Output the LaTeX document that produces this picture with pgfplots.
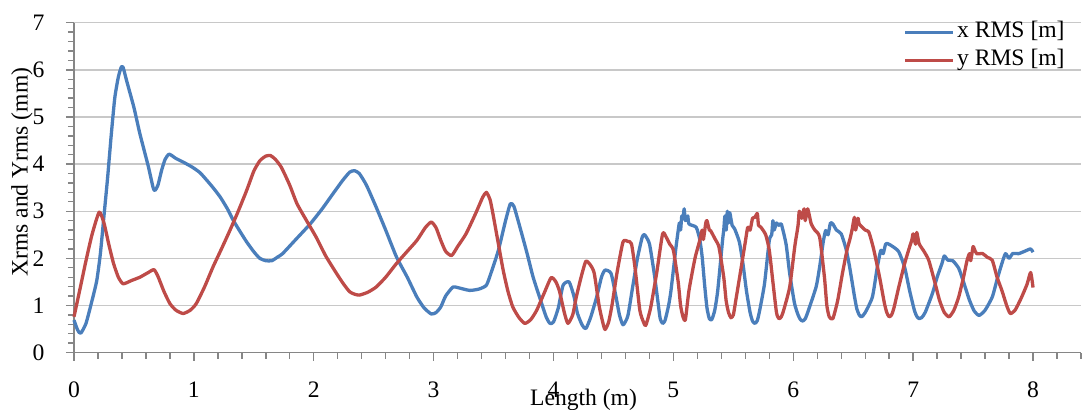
\documentclass[border=0pt]{standalone}
\usepackage{fontspec}
\setmainfont{Liberation Serif}
\usepackage{pgfplots}
\pgfplotsset{compat=1.18}
\definecolor{xblue}{HTML}{4A7EBB}
\definecolor{yred}{HTML}{BE4B48}
\definecolor{axgray}{HTML}{868686}
\definecolor{gridgray}{HTML}{C8C8C8}
\begin{document}
\fontsize{11.8}{14}\selectfont
\begin{tikzpicture}
\begin{axis}[
  at={(0,0)}, anchor=south west,
  scale only axis, width=503.5pt, height=164.95pt,
  xmin=0, xmax=8.4, ymin=0, ymax=7,
  axis x line=bottom, axis y line=left,
  axis line style={-, draw=axgray, line width=0.7pt},
  xtick={0,1,...,8}, ytick={0,1,...,7},
  minor xtick={0,0.2,...,8.4}, minor ytick={0,0.2,...,7},
  tick align=outside, major tick length=4pt, minor tick length=3pt,
  every tick/.style={draw=axgray, line width=0.7pt},
  ymajorgrids, grid style={draw=gridgray, line width=0.7pt},
  /pgf/number format/assume math mode=true,
  ticklabel style={font=\fontsize{11.8}{14}\selectfont},
  xticklabel style={anchor=base, yshift=-18.3pt},
  yticklabel style={anchor=east, xshift=-6.6pt},
  xlabel={Length (m)},
  ylabel={Xrms and Yrms (mm)},
  xlabel style={at={(axis description cs:0.506,0)}, anchor=base, yshift=-26.4pt, font=\fontsize{11.8}{14}\selectfont},
  ylabel style={at={(axis description cs:-0.0517,0.547)}, anchor=center, font=\fontsize{11.8}{14}\selectfont},
  legend style={at={(axis description cs:1,1)}, anchor=north east, xshift=-7pt, yshift=2.35pt,
    draw=none, fill=none, inner sep=0pt, row sep=0pt,
    font=\fontsize{11.8}{14}\selectfont,
    nodes={inner sep=1pt, text height=8.5pt, text depth=3.5pt}},
  legend cell align=left,
  legend image code/.code={\draw[#1] (0pt,0pt) -- (24pt,0pt);},
  clip=false,
]
\addplot[xblue, line width=1.65pt, line join=round, smooth, tension=0.35] coordinates {
(0,0.69)(0.03,0.48)(0.056,0.41)(0.1,0.62)(0.15,1.1)(0.19,1.53)(0.22,2.1)(0.25,2.9)(0.28,3.7)(0.31,4.6)(0.34,5.4)(0.37,5.85)(0.395,6.06)(0.41,6.05)(0.44,5.76)(0.5,5.2)(0.55,4.64)(0.62,3.95)(0.66,3.5)(0.675,3.44)(0.7,3.55)(0.73,3.86)(0.76,4.1)(0.794,4.21)(0.85,4.12)(0.92,4.03)(0.99,3.93)(1.05,3.82)(1.1,3.68)(1.16,3.5)(1.22,3.30)(1.28,3.05)(1.33,2.80)(1.39,2.55)(1.44,2.35)(1.5,2.14)(1.55,2.0)(1.6,1.95)(1.65,1.95)(1.7,2.03)(1.74,2.10)(1.85,2.4)(1.97,2.73)(2.07,3.05)(2.16,3.37)(2.24,3.65)(2.30,3.83)(2.34,3.86)(2.38,3.8)(2.44,3.55)(2.52,3.09)(2.6,2.6)(2.69,2.03)(2.78,1.6)(2.86,1.18)(2.92,0.95)(2.98,0.82)(3.02,0.85)(3.06,0.97)(3.1,1.2)(3.16,1.39)(3.2,1.38)(3.3,1.32)(3.38,1.35)(3.44,1.43)(3.48,1.7)(3.54,2.17)(3.6,2.8)(3.64,3.16)(3.67,3.1)(3.72,2.66)(3.78,2.1)(3.83,1.60)(3.9,1.05)(3.94,0.75)(3.97,0.62)(4.0,0.65)(4.04,0.95)(4.08,1.43)(4.13,1.5)(4.17,1.2)(4.20,0.83)(4.24,0.58)(4.27,0.51)(4.31,0.75)(4.36,1.18)(4.40,1.6)(4.43,1.75)(4.48,1.68)(4.52,1.2)(4.55,0.8)(4.58,0.59)(4.62,0.78)(4.66,1.39)(4.70,2.0)(4.74,2.45)(4.76,2.5)(4.80,2.31)(4.84,1.68)(4.87,1.1)(4.89,0.72)(4.91,0.62)(4.93,0.68)(4.96,1.0)(4.98,1.32)(5.02,2.2)(5.04,2.59)(5.05,2.75)(5.06,2.6)(5.07,2.9)(5.08,2.85)(5.09,3.05)(5.10,2.8)(5.12,2.9)(5.13,2.73)(5.19,2.66)(5.22,2.4)(5.24,2.03)(5.26,1.45)(5.28,0.95)(5.30,0.72)(5.32,0.70)(5.345,0.9)(5.37,1.32)(5.41,2.38)(5.42,2.6)(5.43,2.9)(5.44,2.6)(5.45,3.0)(5.46,2.75)(5.47,2.97)(5.49,2.7)(5.51,2.63)(5.55,2.35)(5.58,1.89)(5.61,1.3)(5.64,0.85)(5.66,0.67)(5.68,0.62)(5.70,0.68)(5.72,0.9)(5.76,1.46)(5.80,2.38)(5.82,2.5)(5.83,2.8)(5.84,2.6)(5.86,2.75)(5.88,2.7)(5.90,2.73)(5.94,2.3)(5.97,1.68)(6.01,1.05)(6.04,0.8)(6.06,0.70)(6.08,0.67)(6.10,0.72)(6.12,0.85)(6.19,1.39)(6.22,1.82)(6.25,2.35)(6.27,2.59)(6.29,2.5)(6.31,2.75)(6.33,2.73)(6.36,2.6)(6.40,2.52)(6.44,2.2)(6.47,1.82)(6.51,1.2)(6.53,0.93)(6.55,0.8)(6.57,0.76)(6.60,0.85)(6.66,1.18)(6.70,1.8)(6.73,2.17)(6.75,2.1)(6.77,2.3)(6.79,2.31)(6.83,2.25)(6.88,2.14)(6.93,1.8)(6.97,1.32)(7.01,0.9)(7.03,0.77)(7.05,0.72)(7.07,0.74)(7.10,0.85)(7.16,1.25)(7.20,1.6)(7.24,1.89)(7.26,2.05)(7.29,1.96)(7.33,1.95)(7.38,1.79)(7.42,1.5)(7.47,1.11)(7.51,0.88)(7.55,0.79)(7.60,0.9)(7.66,1.18)(7.70,1.55)(7.74,1.89)(7.77,2.10)(7.80,2.0)(7.83,2.1)(7.88,2.10)(7.93,2.15)(7.98,2.20)(8.0,2.13)
};
\addlegendentry{x RMS [m]}
\addplot[yred, line width=1.65pt, line join=round, smooth, tension=0.35] coordinates {
(0,0.76)(0.05,1.35)(0.1,1.95)(0.15,2.5)(0.21,2.98)(0.25,2.75)(0.29,2.3)(0.33,1.89)(0.37,1.6)(0.41,1.46)(0.48,1.53)(0.55,1.60)(0.62,1.7)(0.667,1.76)(0.7,1.62)(0.75,1.3)(0.8,1.04)(0.85,0.9)(0.91,0.83)(0.97,0.9)(1.02,1.04)(1.09,1.4)(1.16,1.82)(1.23,2.2)(1.3,2.59)(1.37,3.0)(1.44,3.44)(1.5,3.85)(1.55,4.07)(1.60,4.17)(1.64,4.18)(1.68,4.1)(1.73,3.93)(1.8,3.55)(1.86,3.16)(1.94,2.8)(2.02,2.45)(2.1,2.05)(2.19,1.68)(2.25,1.45)(2.30,1.29)(2.34,1.24)(2.38,1.22)(2.45,1.28)(2.52,1.39)(2.6,1.6)(2.69,1.89)(2.78,2.15)(2.86,2.38)(2.93,2.65)(2.98,2.77)(3.02,2.65)(3.06,2.38)(3.1,2.15)(3.15,2.06)(3.2,2.25)(3.27,2.52)(3.35,2.95)(3.41,3.3)(3.44,3.40)(3.47,3.25)(3.49,3.01)(3.53,2.45)(3.58,1.75)(3.62,1.3)(3.66,0.97)(3.71,0.75)(3.76,0.62)(3.81,0.7)(3.86,0.90)(3.92,1.25)(3.98,1.59)(4.02,1.5)(4.05,1.30)(4.09,0.85)(4.12,0.62)(4.16,0.8)(4.19,1.18)(4.23,1.6)(4.27,1.94)(4.31,1.85)(4.34,1.68)(4.38,1.0)(4.41,0.65)(4.43,0.49)(4.46,0.65)(4.49,1.04)(4.53,1.7)(4.58,2.35)(4.62,2.36)(4.65,2.31)(4.68,1.8)(4.72,0.9)(4.75,0.65)(4.77,0.58)(4.81,0.95)(4.86,1.68)(4.91,2.52)(4.94,2.45)(4.97,2.3)(5.0,2.17)(5.04,1.5)(5.06,1.0)(5.08,0.76)(5.10,0.7)(5.13,1.32)(5.18,2.0)(5.22,2.38)(5.24,2.6)(5.25,2.4)(5.27,2.75)(5.28,2.80)(5.30,2.6)(5.31,2.59)(5.35,2.4)(5.38,2.24)(5.42,1.6)(5.44,1.1)(5.46,0.85)(5.48,0.74)(5.50,0.8)(5.52,1.1)(5.56,1.72)(5.60,2.35)(5.62,2.66)(5.64,2.6)(5.66,2.85)(5.68,2.87)(5.70,2.95)(5.71,2.7)(5.73,2.66)(5.77,2.5)(5.80,2.17)(5.83,1.5)(5.86,0.85)(5.88,0.72)(5.90,0.76)(5.92,0.9)(5.97,1.39)(6.01,2.2)(6.02,2.38)(6.04,2.7)(6.05,3.0)(6.07,2.85)(6.09,3.05)(6.10,2.8)(6.12,3.05)(6.15,2.73)(6.18,2.6)(6.22,2.45)(6.26,1.6)(6.28,1.0)(6.30,0.76)(6.33,0.72)(6.37,1.1)(6.41,1.68)(6.45,2.2)(6.47,2.38)(6.49,2.6)(6.51,2.87)(6.52,2.6)(6.54,2.85)(6.55,2.73)(6.6,2.6)(6.63,2.56)(6.67,2.2)(6.72,1.6)(6.76,1.05)(6.78,0.85)(6.80,0.76)(6.82,0.8)(6.84,0.95)(6.88,1.39)(6.93,1.9)(6.97,2.24)(6.99,2.4)(7.00,2.52)(7.02,2.3)(7.03,2.55)(7.05,2.31)(7.09,2.15)(7.13,1.96)(7.18,1.5)(7.22,1.11)(7.26,0.85)(7.30,0.76)(7.34,0.9)(7.38,1.18)(7.42,1.6)(7.45,1.96)(7.47,2.1)(7.48,1.95)(7.50,2.25)(7.51,2.2)(7.53,2.1)(7.58,2.1)(7.62,2.02)(7.66,1.96)(7.70,1.6)(7.74,1.32)(7.78,1.0)(7.81,0.83)(7.85,0.9)(7.90,1.15)(7.95,1.45)(7.98,1.70)(8.0,1.38)
};
\addlegendentry{y RMS [m]}
\end{axis}
\pgfresetboundingbox
\useasboundingbox (-37pt,-28.2pt) rectangle (504.5pt,176.3pt);
\end{tikzpicture}
\end{document}
